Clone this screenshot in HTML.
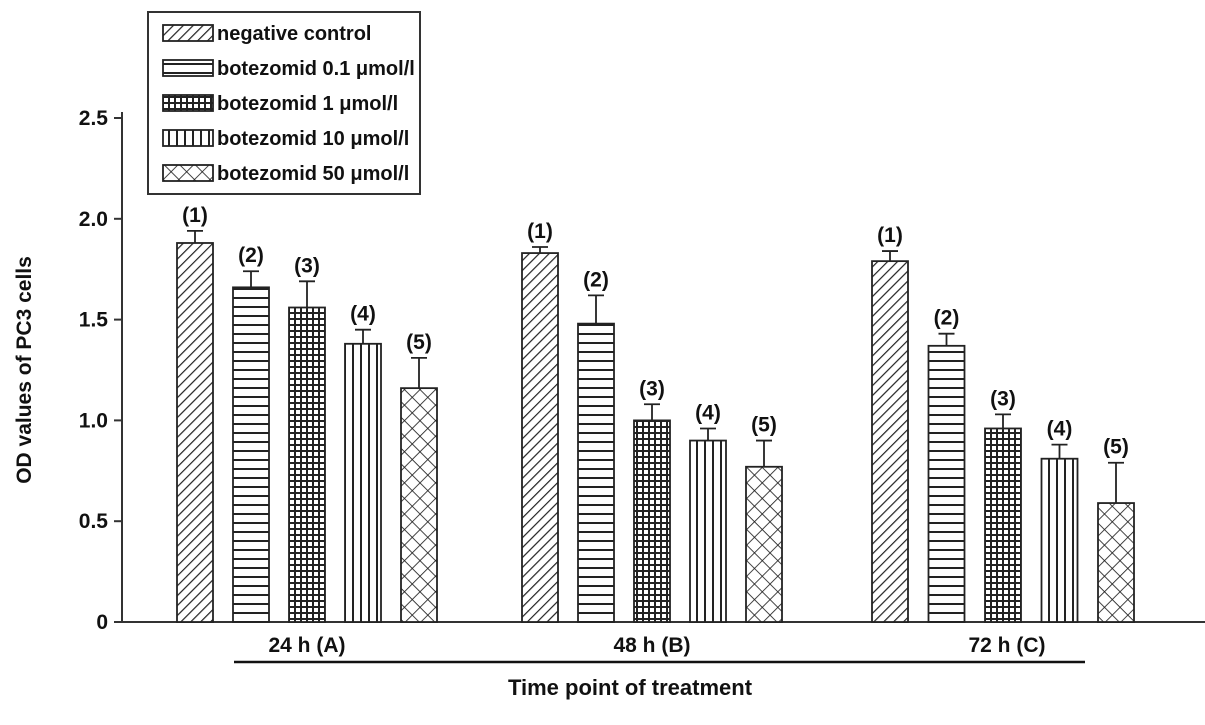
<!DOCTYPE html>
<html><head><meta charset="utf-8"><style>
body{margin:0;background:#fff}
svg text{font-family:"Liberation Sans",Arial,sans-serif;font-weight:bold;fill:#111}
</style></head><body>
<svg id="chart" width="1205" height="720" viewBox="0 0 1205 720" xmlns="http://www.w3.org/2000/svg">
<defs>
<pattern id="p0" patternUnits="userSpaceOnUse" width="7" height="7" patternTransform="rotate(45)"><rect width="7" height="7" fill="#fff"/><line x1="0" y1="0" x2="0" y2="7" stroke="#222" stroke-width="2.4"/></pattern>
<pattern id="p1" patternUnits="userSpaceOnUse" width="8" height="9"><rect width="8" height="9" fill="#fff"/><line x1="0" y1="1" x2="8" y2="1" stroke="#222" stroke-width="2"/></pattern>
<pattern id="p2" patternUnits="userSpaceOnUse" width="6" height="6"><rect width="6" height="6" fill="#fff"/><line x1="0" y1="1" x2="6" y2="1" stroke="#222" stroke-width="2"/><line x1="1" y1="0" x2="1" y2="6" stroke="#222" stroke-width="2"/></pattern>
<pattern id="p3" patternUnits="userSpaceOnUse" width="8" height="8"><rect width="8" height="8" fill="#fff"/><line x1="1" y1="0" x2="1" y2="8" stroke="#222" stroke-width="2"/></pattern>
<pattern id="p4" patternUnits="userSpaceOnUse" width="11" height="11" patternTransform="rotate(45)"><rect width="11" height="11" fill="#fff"/><line x1="0" y1="0" x2="11" y2="0" stroke="#222" stroke-width="1.7"/><line x1="0" y1="0" x2="0" y2="11" stroke="#222" stroke-width="1.7"/></pattern>
</defs>
<g id="plot"></g>
</svg>
<script>
const groups=["24 h (A)","48 h (B)","72 h (C)"];
const seriesNames=["negative control","botezomid 0.1 μmol/l","botezomid 1 μmol/l","botezomid 10 μmol/l","botezomid 50 μmol/l"];
const means24=[1.88,1.66,1.56,1.38,1.16];
const means48=[1.83,1.48,1.00,0.90,0.77];
const means72=[1.79,1.37,0.96,0.81,0.59];
const errTop24=[1.94,1.74,1.69,1.45,1.31];
const errTop48=[1.86,1.62,1.08,0.96,0.90];
const errTop72=[1.84,1.43,1.03,0.88,0.79];
const yTicks=[0,0.5,1.0,1.5,2.0,2.5];
const yTickLabels=["0","0.5","1.0","1.5","2.0","2.5"];

const NS="http://www.w3.org/2000/svg";
const g=document.getElementById('plot');
function el(t,a,txt){const e=document.createElementNS(NS,t);for(const k in a)e.setAttribute(k,a[k]);if(txt!==undefined)e.textContent=txt;g.appendChild(e);return e;}
const y=v=>622-v*201.6;
const groupStart=[177,522,872];
const barStep=[56,56,56.5];
const barW=36;
const x=(gi,si)=>groupStart[gi]+si*barStep[gi];
const means=[means24,means48,means72],errs=[errTop24,errTop48,errTop72];

let e;
e=el('line',{x1:122,y1:112,x2:122,y2:622,stroke:'#333','stroke-width':2});


e=el('line',{x1:122,y1:622,x2:1205,y2:622,stroke:'#333','stroke-width':2});


yTicks.forEach((t,i)=>{
 e=el('line',{x1:114,y1:y(t),x2:122,y2:y(t),stroke:'#333','stroke-width':2});
 
 
 e=el('text',{x:108,y:y(t)+7,'text-anchor':'end','font-size':21},yTickLabels[i]);
 
 
});
e=el('text',{x:0,y:0,'font-size':21,'text-anchor':'middle',transform:'translate(31,370) rotate(-90)'},'OD values of PC3 cells');



groups.forEach((gn,gi)=>{
 means[gi].forEach((v,si)=>{
  const bx=x(gi,si);
  e=el('rect',{x:bx,y:y(v),width:barW,height:y(0)-y(v),fill:'url(#p'+si+')',stroke:'#222','stroke-width':1.8});
  
  
  const cx=bx+barW/2, et=errs[gi][si];
  e=el('path',{d:`M${cx} ${y(v)}V${y(et)}M${cx-8} ${y(et)}H${cx+8}`,stroke:'#222','stroke-width':1.8,fill:'none'});
  
  
  e=el('text',{x:cx,y:y(et)-9,'text-anchor':'middle','font-size':21},'('+(si+1)+')');
  
  
 });
 const mid=x(gi,2)+barW/2+(gi==2?4:0);
 e=el('text',{x:mid,y:652,'text-anchor':'middle','font-size':21},gn);
 
 
});
e=el('line',{x1:234,y1:662,x2:1085,y2:662,stroke:'#111','stroke-width':2.5});


e=el('text',{x:630,y:695,'text-anchor':'middle','font-size':22},'Time point of treatment');



e=el('rect',{x:148,y:12,width:272,height:182,fill:'#fff',stroke:'#333','stroke-width':2});


seriesNames.forEach((n,i)=>{
 const ly=25+i*35;
 e=el('rect',{x:163,y:ly,width:50,height:16,fill:'url(#p'+i+')',stroke:'#222','stroke-width':1.8});
 
 
 e=el('text',{x:217,y:ly+15,'font-size':20},n);
 
 
});
</script>
</body></html>
